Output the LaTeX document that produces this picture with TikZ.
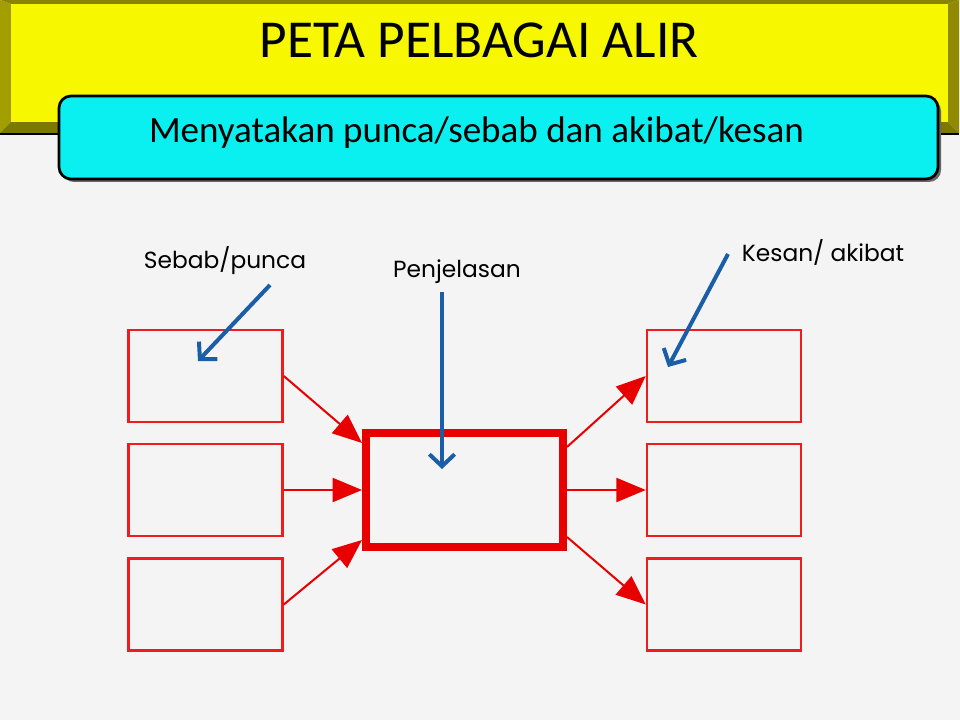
\documentclass[tikz,border=0pt]{standalone}
\usepackage{fontspec}
\newfontfamily\carlito{Carlito}
\newfontfamily\handfont{Poppins}
\usetikzlibrary{arrows.meta}
\definecolor{bg}{HTML}{F4F4F4}
\definecolor{yface}{HTML}{F7F700}
\definecolor{ytop}{HTML}{8A8500}
\definecolor{yleft}{HTML}{A39E00}
\definecolor{ybot}{HTML}{7D7800}
\definecolor{yright}{HTML}{8F8A00}
\definecolor{subcyan}{HTML}{0AF0F0}
\definecolor{boxred}{HTML}{EE1C1C}
\definecolor{arrred}{HTML}{E80000}
\definecolor{arrblue}{HTML}{1B5EA8}
\begin{document}
\begin{tikzpicture}[x=0.75pt,y=-0.75pt,
  smallbox/.style={draw=boxred, line width=1.9pt, minimum width=115.5pt, minimum height=69pt, inner sep=0pt},
  bigbox/.style={draw=arrred, line width=6pt, minimum width=147.75pt, minimum height=85.5pt, inner sep=0pt},
  redarrow/.style={draw=arrred, line width=1.5pt, -{Triangle[length=22pt,width=18pt]}},
  bluearrow/.style={draw=arrblue, line width=3pt, -{Straight Barb[length=9pt,width=19pt]}},
  handlabel/.style={font=\handfont\fontsize{17.5}{21}\selectfont, anchor=base, inner sep=0pt},
]
\useasboundingbox (0,0) rectangle (960,720);
\fill[bg] (0,0) rectangle (960,720);
% yellow banner with bevel
\fill[ytop] (0,0) -- (959,0) -- (948,4) -- (11,4) -- cycle;
\fill[yleft] (0,0) -- (11,4) -- (11,122) -- (0,133) -- cycle;
\fill[ybot] (0,133) -- (11,122) -- (948,122) -- (959,133) -- cycle;
\fill[yright] (959,0) -- (948,4) -- (948,122) -- (959,133) -- cycle;
\fill[yface] (11,4) rectangle (948,122);
\draw[black, line width=1.5pt] (0,134) -- (959,134);
\node[font=\carlito\fontsize{40}{46}\selectfont, anchor=base, inner sep=0pt] (title) at (479,58) {PETA PELBAGAI ALIR};
% cyan subtitle box
\fill[black!60, rounded corners=9pt] (62,99) rectangle (941,182);
\node[draw=black, fill=subcyan, line width=2pt, rounded corners=9pt, minimum width=659.25pt, minimum height=62.25pt, inner sep=0pt] (sub) at (498.5,137.5) {};
\node[font=\carlito\fontsize{27.8}{32}\selectfont, anchor=base, inner sep=0pt] (subtext) at (476.5,143) {Menyatakan punca/sebab dan akibat/kesan};
% boxes
\node[smallbox] (L1) at (205.5,376) {};
\node[smallbox] (L2) at (205.5,490) {};
\node[smallbox] (L3) at (205.5,604.5) {};
\node[smallbox] (R1) at (724,376) {};
\node[smallbox] (R2) at (724,490) {};
\node[smallbox] (R3) at (724,604.5) {};
\node[bigbox] (C) at (464.5,490) {};
% red arrows
\draw[redarrow] (L1.east) -- ([shift={(0,14)}]C.north west);
\draw[redarrow] (L2.east) -- (C.west);
\draw[redarrow] (L3.east) -- ([shift={(0,-11)}]C.south west);
\draw[redarrow] ([shift={(0,18)}]C.north east) -- (R1.west);
\draw[redarrow] (C.east) -- (R2.west);
\draw[redarrow] ([shift={(0,-14)}]C.south east) -- (R3.west);
% labels
\node[handlabel] (lsebab) at (225,269) {Sebab/punca};
\node[handlabel] (lpenj) at (457,277) {Penjelasan};
\node[handlabel] (lkesan) at (823,262) {Kesan/ akibat};
% blue arrows
\coordinate (s1) at (270,285);
\coordinate (e1) at (198,361);
\coordinate (s2) at (442,292);
\coordinate (e2) at (442,469);
\coordinate (s3) at (728,254);
\coordinate (e3) at (668,367);
\draw[bluearrow] (s1) -- (e1);
\draw[bluearrow] (s2) -- (e2);
\draw[bluearrow] (s3) -- (e3);
\end{tikzpicture}
\end{document}
